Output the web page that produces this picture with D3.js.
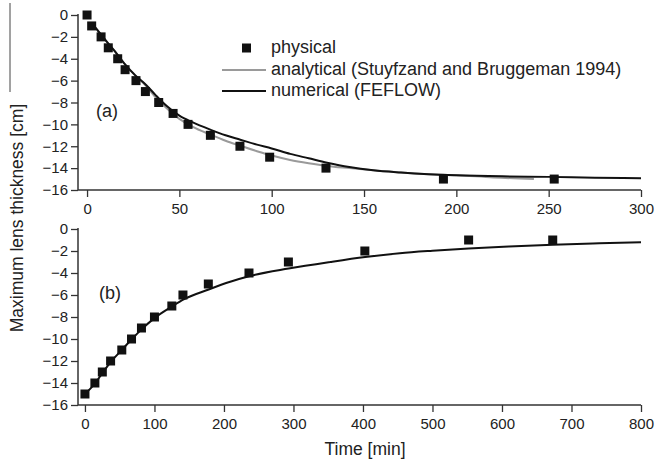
<!DOCTYPE html>
<html>
<head>
<meta charset="utf-8">
<script src="https://cdn.jsdelivr.net/npm/d3@7"></script>
<style>
  body { margin: 0; background: #fff; }
  svg text { font-family: "Liberation Sans", Arial, sans-serif; fill: #222; }
</style>
</head>
<body>
<svg id="chart"></svg>
<script>
// panel (a): lens formation
const physA_t = [0, 2.5, 7.6, 11.5, 16.6, 20.6, 26.5, 31.6, 38.8, 46.6, 54.7, 66.8, 82.8, 98.9, 129.4, 193, 253];
const physA_y = [0, -1, -2, -3, -4, -5, -6, -7, -8, -9, -10, -11, -12, -13, -14, -15, -15];

const anaA_t = [4, 10, 15, 20, 26, 32, 37, 43, 50, 57, 67, 75, 83, 92, 100, 110, 120, 130, 142, 155, 170, 185, 200, 220, 242];
const anaA_y = [-1.05, -2.3, -3.3, -4.4, -5.5, -6.5, -7.5, -8.5, -9.5, -10.2, -10.95, -11.5, -11.95, -12.45, -12.85, -13.25, -13.55, -13.8, -14.0, -14.2, -14.4, -14.55, -14.65, -14.85, -15.0];

const numA_t = [4, 10, 15, 20, 26, 32, 37, 43, 50, 57, 67, 75, 83, 92, 100, 110, 120, 130, 142, 155, 170, 185, 200, 225, 250, 275, 300];
const numA_y = [-1.05, -2.3, -3.3, -4.4, -5.5, -6.4, -7.3, -8.3, -9.2, -9.8, -10.5, -11.0, -11.4, -11.85, -12.2, -12.7, -13.1, -13.5, -13.9, -14.2, -14.4, -14.55, -14.65, -14.75, -14.8, -14.87, -14.92];

// panel (b): lens decay
const physB_t = [0, 14.3, 25, 36.9, 53, 67, 81.3, 100, 125, 141, 177.5, 236, 292.7, 402.7, 552, 673];
const physB_y = [-15, -14, -13, -12, -11, -10, -9, -8, -7, -6, -5, -4, -3, -2, -1, -1];

const numB_t = [0, 15, 25, 37, 53, 67, 81, 100, 125, 142, 178, 209, 236, 293, 353, 403, 453, 500, 552, 610, 673, 740, 800];
const numB_y = [-15, -14, -13.1, -12.1, -11.0, -10.05, -9.15, -8.1, -7.05, -6.4, -5.5, -4.8, -4.3, -3.6, -3.0, -2.55, -2.2, -1.98, -1.78, -1.6, -1.43, -1.3, -1.2];

const yTicks = [0, -2, -4, -6, -8, -10, -12, -14, -16];
const xTicksA = [0, 50, 100, 150, 200, 250, 300];
const xTicksB = [0, 100, 200, 300, 400, 500, 600, 700, 800];

const legendLabels = ["physical", "analytical (Stuyfzand and Bruggeman 1994)", "numerical (FEFLOW)"];

const width = 656, height = 462;
const svg = d3.select("#chart").attr("width", width).attr("height", height);

const axisColor = "#333";
const zip = (ts, ys) => ts.map((t, i) => [t, ys[i]]);

function panel(opts) {
    const x = d3.scaleLinear().domain(opts.xDomain).range([78, 641]);
    const y = d3.scaleLinear().domain([-16, 0]).range([opts.bottom, opts.top]);
    const g = svg.append("g");

    // y axis with minor ticks
    const yAx = g.append("g").attr("transform", "translate(78,0)");
    yAx.call(d3.axisLeft(y).tickValues(d3.range(-16, 0.5, 1)).tickSize(4).tickFormat(""));
    yAx.call(d3.axisLeft(y).tickValues(yTicks).tickSize(7).tickPadding(3).tickFormat(d3.format("d")));
    yAx.selectAll(".domain").remove();
    yAx.append("line").attr("y1", opts.top - 1).attr("y2", opts.bottom).attr("stroke", axisColor).attr("stroke-width", 1.5);

    // x axis with minor ticks
    const xAx = g.append("g").attr("transform", `translate(0,${opts.bottom})`);
    xAx.call(d3.axisBottom(x).tickValues(opts.minor).tickSize(4).tickFormat(""));
    xAx.call(d3.axisBottom(x).tickValues(opts.xTicks).tickSize(7).tickPadding(6).tickFormat(d3.format("d")));
    xAx.selectAll(".domain").remove();
    xAx.append("line").attr("x1", 78).attr("x2", 641).attr("stroke", axisColor).attr("stroke-width", 1.5);

    g.selectAll(".tick line").attr("stroke", axisColor).attr("stroke-width", 1.3);
    g.selectAll(".tick text").attr("font-size", 15).attr("fill", "#222")
        .attr("font-family", "Liberation Sans, Arial, sans-serif");

    const line = d3.line().x(d => x(d[0])).y(d => y(d[1])).curve(d3.curveMonotoneX);
    opts.lines.forEach(l => {
        g.append("path").datum(l.data).attr("d", line)
            .attr("fill", "none").attr("stroke", l.color).attr("stroke-width", l.w);
    });

    g.selectAll("rect.pt").data(opts.points).join("rect").attr("class", "pt")
        .attr("x", d => x(d[0]) - 4.5).attr("y", d => y(d[1]) - 4.5)
        .attr("width", 9).attr("height", 9).attr("fill", "#111");

    g.append("text").attr("x", opts.labelX).attr("y", y(opts.labelY))
        .attr("font-size", 18).attr("text-anchor", "middle").attr("dominant-baseline", "middle")
        .text(opts.label);
}

panel({
    xDomain: [-4.9, 300], top: 15, bottom: 190,
    xTicks: xTicksA, minor: d3.range(0, 301, 10),
    lines: [
        { data: zip(anaA_t, anaA_y), color: "#9a9a9a", w: 2 },
        { data: zip(numA_t, numA_y), color: "#111", w: 2 }
    ],
    points: zip(physA_t, physA_y),
    label: "(a)", labelX: 107, labelY: -8.9
});

panel({
    xDomain: [-10, 800], top: 229, bottom: 405,
    xTicks: xTicksB, minor: d3.range(0, 801, 50),
    lines: [{ data: zip(numB_t, numB_y), color: "#111", w: 2 }],
    points: zip(physB_t, physB_y),
    label: "(b)", labelX: 110, labelY: -5.9
});

// legend
const leg = svg.append("g");
const legY = [48, 70, 91];
leg.append("rect").attr("x", 242).attr("y", legY[0] - 4.5).attr("width", 9).attr("height", 9).attr("fill", "#111");
leg.append("line").attr("x1", 222).attr("x2", 266).attr("y1", legY[1]).attr("y2", legY[1]).attr("stroke", "#9a9a9a").attr("stroke-width", 2);
leg.append("line").attr("x1", 222).attr("x2", 266).attr("y1", legY[2]).attr("y2", legY[2]).attr("stroke", "#111").attr("stroke-width", 2);
leg.selectAll("text").data(legendLabels).join("text")
    .attr("x", 271).attr("y", (d, i) => legY[i])
    .attr("dominant-baseline", "middle").attr("font-size", 18)
    .text(d => d);

// axis titles
svg.append("text").attr("x", 365).attr("y", 450).attr("text-anchor", "middle")
    .attr("dominant-baseline", "middle").attr("font-size", 17.5).text("Time [min]");
svg.append("text").attr("transform", "translate(18,218) rotate(-90)").attr("text-anchor", "middle")
    .attr("dominant-baseline", "middle").attr("font-size", 17.5).text("Maximum lens thickness [cm]");

// stray frame line at the left edge
svg.append("line").attr("x1", 10).attr("x2", 10).attr("y1", 3).attr("y2", 92).attr("stroke", "#444").attr("stroke-width", 1);
</script>
</body>
</html>
